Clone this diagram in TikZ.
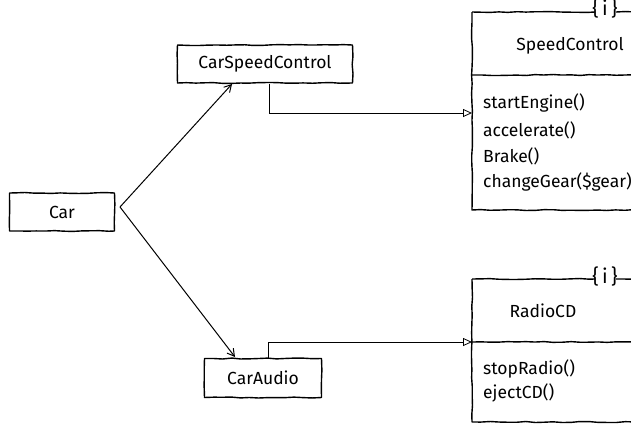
\documentclass[tikz,border=0pt]{standalone}
\usepackage{fontspec}
\setmainfont{Fira Sans}
\usetikzlibrary{arrows.meta,decorations.pathmorphing}
\begin{document}
\begin{tikzpicture}[x=1pt,y=-1pt,
  sketch/.style={draw=black,line width=1.4pt,line join=round,
    decorate,decoration={random steps,segment length=9pt,amplitude=0.5pt}},
  classbox/.style={sketch,fill=white},
  lbl/.style={font=\fontsize{17.5}{20}\selectfont,text=black},
  meth/.style={lbl,anchor=west,inner xsep=0pt},
  iface/.style={font=\fontsize{20}{22}\selectfont,inner sep=0pt,text=black},
  assoc/.style={draw=black,line width=1pt,-{Straight Barb[length=7pt,width=8pt]}},
  impl/.style={draw=black,line width=0.8pt,-{Triangle[open,length=9pt,width=8pt]}}]
\useasboundingbox (0,0) rectangle (631,429);
\clip (0,0) rectangle (631,429);

% simple classes
\node[classbox,minimum width=105pt,minimum height=38pt,lbl] (car) at (62,212) {Car};
\node[classbox,minimum width=175pt,minimum height=38pt,lbl] (csc) at (265,64) {CarSpeedControl};
\node[classbox,minimum width=117pt,minimum height=39pt,lbl] (caud) at (263,378) {CarAudio};

% interface SpeedControl
\path[sketch] (472,12) -- (472,210) -- (645,210);
\path[sketch] (472,12) -- (595,12);
\path[sketch] (616,12) -- (645,12);
\path[sketch] (472,75) -- (645,75);
\node[iface] (sci) at (605,8) {\{\,i\,\}};
\node[lbl] (sctitle) at (570,46) {SpeedControl};
\coordinate (scin) at (472,113);
\node[meth] (m1) at (483,103) {startEngine()};
\node[meth] (m2) at (483,130) {accelerate()};
\node[meth] (m3) at (483,156) {Brake()};
\node[meth] (m4) at (483,182) {changeGear(\$gear)};

% interface RadioCD
\path[sketch] (472,279) -- (472,422) -- (645,422);
\path[sketch] (472,279) -- (595,279);
\path[sketch] (616,279) -- (645,279);
\path[sketch] (472,342) -- (645,342);
\node[iface] (rci) at (605,276) {\{\,i\,\}};
\node[lbl] (rctitle) at (543,311) {RadioCD};
\coordinate (rcin) at (472,342);
\node[meth] (r1) at (483,369) {stopRadio()};
\node[meth] (r2) at (483,393) {ejectCD()};

% associations from Car
\coordinate (fork) at (120,207);
\coordinate (cscin) at (232,84);
\coordinate (caudin) at (235,357);
\draw[assoc] (fork) -- (cscin);
\draw[assoc] (fork) -- (caudin);

% realizations
\draw[impl] (csc.south -| 269,0) |- (scin);
\draw[impl] (caud.north -| 268,0) |- (rcin);
\end{tikzpicture}
\end{document}
